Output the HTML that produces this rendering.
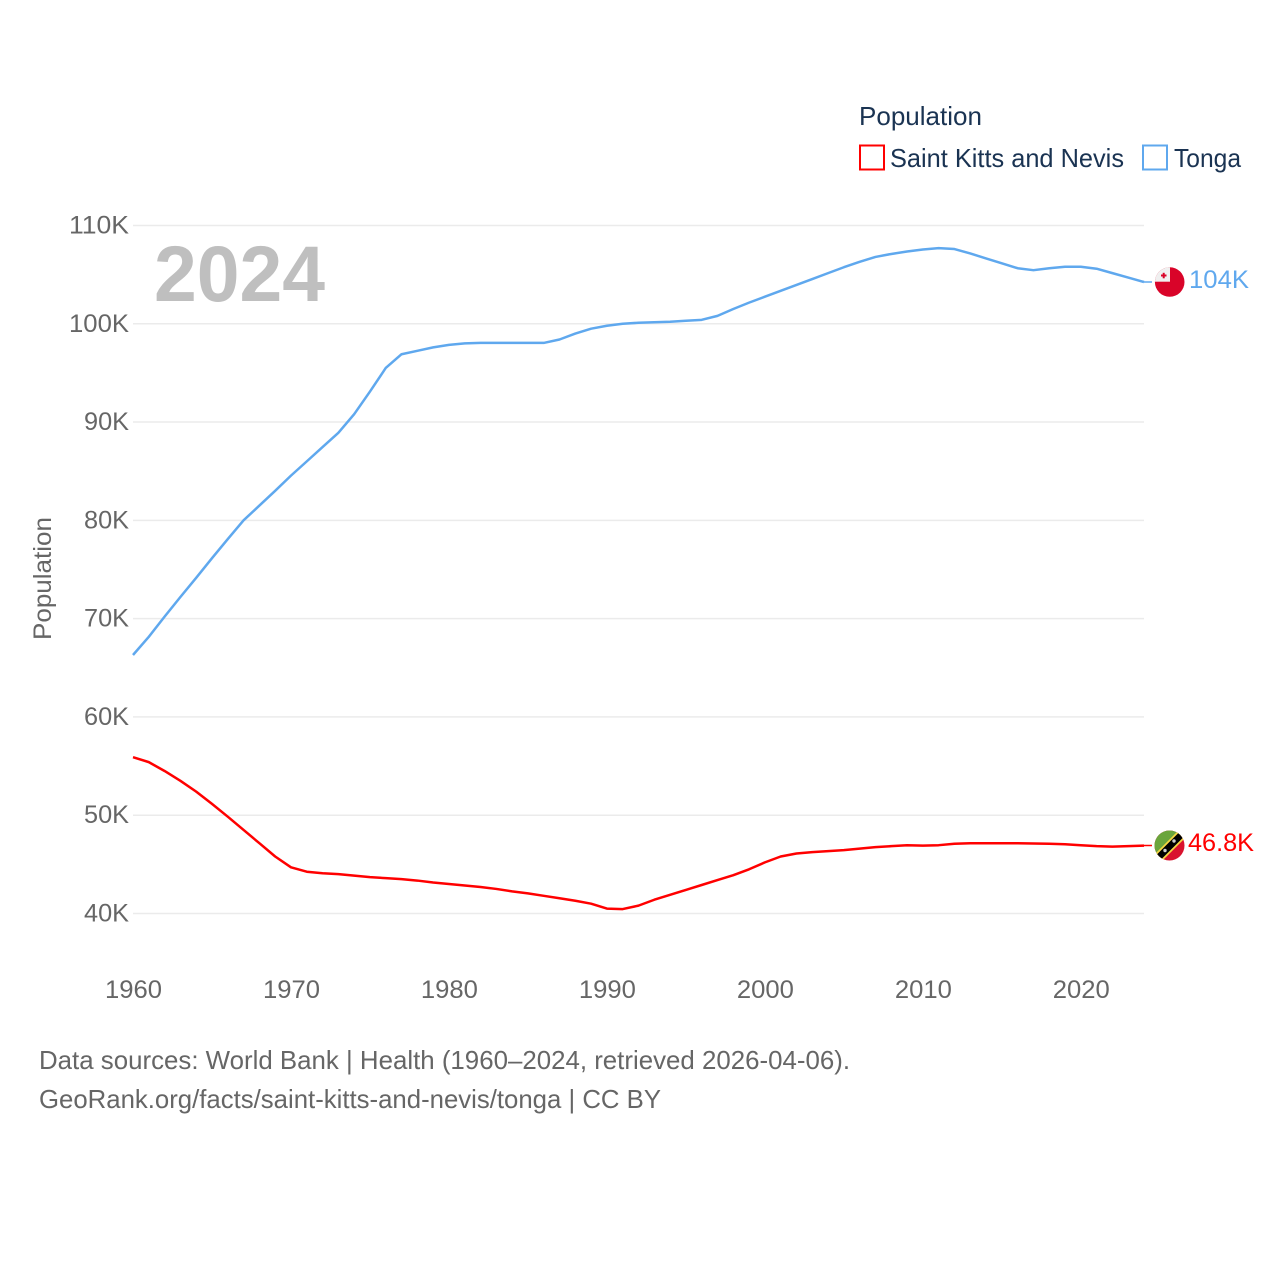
<!DOCTYPE html>
<html>
<head>
<meta charset="utf-8">
<title>Population: Saint Kitts and Nevis vs Tonga</title>
<style>
html,body{margin:0;padding:0;background:#fff;width:1280px;height:1280px;overflow:hidden}
svg{display:block}
text{font-family:"Liberation Sans",sans-serif}
</style>
</head>
<body>
<svg id="chart" width="1280" height="1280" viewBox="0 0 1280 1280" xmlns="http://www.w3.org/2000/svg">
  <rect width="1280" height="1280" fill="#fff"/>
  <g id="grid"></g>
  <g id="yticks"></g>
  <g id="xticks"></g>
  <text x="154" y="301" font-size="79" font-weight="bold" fill="#bfbfbf" textLength="171" lengthAdjust="spacingAndGlyphs">2024</text>
  <text transform="translate(51,640) rotate(-90)" font-size="25" fill="#666" textLength="123" lengthAdjust="spacingAndGlyphs">Population</text>
  <g id="series"></g>

  <g>
    <text x="859" y="125" font-size="26" fill="#1a3352" textLength="123" lengthAdjust="spacingAndGlyphs">Population</text>
    <rect x="860" y="145.500" width="24" height="24" fill="#fff" stroke="#ff0000" stroke-width="2"/>
    <text x="890" y="167" font-size="26" fill="#1a3352" textLength="234" lengthAdjust="spacingAndGlyphs">Saint Kitts and Nevis</text>
    <rect x="1143" y="145.500" width="24" height="24" fill="#fff" stroke="#5fa8ee" stroke-width="2"/>
    <text x="1174" y="167" font-size="26" fill="#1a3352" textLength="67" lengthAdjust="spacingAndGlyphs">Tonga</text>
  </g>

  <defs>
    <clipPath id="tongaClip"><circle cx="1169.700" cy="282" r="14.800"/></clipPath>
    <clipPath id="kittsClip"><circle cx="1169.500" cy="845.500" r="15"/></clipPath>
  </defs>

  <line x1="1144" y1="282" x2="1152" y2="282" stroke="#5fa8ee" stroke-width="1.500"/>
  <g clip-path="url(#tongaClip)">
    <rect x="1154" y="266" width="32" height="32" fill="#d90429"/>
    <rect x="1154" y="266" width="16" height="15.700" fill="#f0f0f0"/>
    <rect x="1162.700" y="272.800" width="2" height="5.500" fill="#d90429"/>
    <rect x="1161" y="274.500" width="5.500" height="2" fill="#d90429"/>
  </g>
  <text x="1189" y="288" font-size="25" fill="#5fa8ee" textLength="60" lengthAdjust="spacingAndGlyphs">104K</text>

  <line x1="1144" y1="845.500" x2="1152" y2="845.500" stroke="#ff0000" stroke-width="1.500"/>
  <g clip-path="url(#kittsClip)">
    <rect x="1154" y="830" width="32" height="32" fill="#d9122e"/>
    <polygon points="1154,830 1186,830 1154,862" fill="#6aa53c"/>
    <line x1="1156" y1="860" x2="1184" y2="832" stroke="#f5d742" stroke-width="10"/>
    <line x1="1156" y1="860" x2="1184" y2="832" stroke="#000" stroke-width="6.500"/>
    <circle cx="1165" cy="850.500" r="1.700" fill="#ccc"/>
    <circle cx="1174" cy="841" r="1.700" fill="#ccc"/>
  </g>
  <text x="1188" y="851" font-size="25" fill="#ff0000" textLength="66" lengthAdjust="spacingAndGlyphs">46.8K</text>

  <g>
    <text x="39" y="1069" font-size="26" fill="#666" textLength="811" lengthAdjust="spacingAndGlyphs">Data sources: World Bank | Health (1960–2024, retrieved 2026-04-06).</text>
    <text x="39" y="1108" font-size="26" fill="#666" textLength="622" lengthAdjust="spacingAndGlyphs">GeoRank.org/facts/saint-kitts-and-nevis/tonga | CC BY</text>
  </g>
</svg>
<script>
const startYear = 1960;
const xTickLabels = [1960, 1970, 1980, 1990, 2000, 2010, 2020];
const yTickValues = [40, 50, 60, 70, 80, 90, 100, 110];
const tongaValues = [
  66.3, 68.15, 70.2, 72.2, 74.15, 76.15, 78.1, 80.0, 81.5, 83.0,
  84.55, 86.0, 87.45, 88.9, 90.8, 93.1, 95.5, 96.9, 97.25, 97.6,
  97.85, 98.0, 98.05, 98.05, 98.05, 98.05, 98.05, 98.4, 99.0, 99.5,
  99.8, 100.0, 100.1, 100.15, 100.2, 100.3, 100.4, 100.8, 101.5, 102.15,
  102.75, 103.35, 103.95, 104.55, 105.15, 105.75, 106.3, 106.8, 107.1, 107.35,
  107.55, 107.7, 107.6, 107.15, 106.65, 106.15, 105.65, 105.45, 105.65, 105.8,
  105.8, 105.6, 105.15, 104.7, 104.25
];
const kittsValues = [
  55.9, 55.4, 54.5, 53.5, 52.4, 51.15, 49.85, 48.5, 47.15, 45.8,
  44.7, 44.25, 44.1, 44.0, 43.85, 43.7, 43.6, 43.5, 43.35, 43.15,
  43.0, 42.85, 42.7, 42.5, 42.25, 42.05, 41.8, 41.55, 41.3, 41.0,
  40.5, 40.45, 40.8, 41.4, 41.9, 42.4, 42.9, 43.4, 43.9, 44.5,
  45.2, 45.8, 46.1, 46.25, 46.35, 46.45, 46.6, 46.75, 46.85, 46.95,
  46.9, 46.95, 47.1, 47.15, 47.15, 47.15, 47.15, 47.12, 47.1, 47.05,
  46.95, 46.85, 46.8, 46.85, 46.9
];

const NS = 'http://www.w3.org/2000/svg';
const xScale = function (year) { return 133 + (year - 1960) * 15.797; };
const yScale = function (v) { return 913.5 - (v - 40) * 9.829; };

const gridGroup = document.getElementById('grid');
const yGroup = document.getElementById('yticks');
const xGroup = document.getElementById('xticks');
const seriesGroup = document.getElementById('series');

yTickValues.forEach(function (v) {
  const line = document.createElementNS(NS, 'line');
  
  
  line.setAttribute('x1', 133);
  line.setAttribute('x2', 1144);
  line.setAttribute('y1', yScale(v));
  line.setAttribute('y2', yScale(v));
  line.setAttribute('stroke', '#ebebeb');
  line.setAttribute('stroke-width', '1.5');
  gridGroup.appendChild(line);

  const label = document.createElementNS(NS, 'text');
  
  
  const str = v + 'K';
  label.textContent = str;
  const w = str.length * 15;
  label.setAttribute('x', 129 - w);
  label.setAttribute('y', yScale(v) + 8);
  label.setAttribute('font-size', '25');
  label.setAttribute('fill', '#666');
  label.setAttribute('textLength', w);
  label.setAttribute('lengthAdjust', 'spacingAndGlyphs');
  yGroup.appendChild(label);
});

xTickLabels.forEach(function (year) {
  const label = document.createElementNS(NS, 'text');
  
  
  label.textContent = String(year);
  label.setAttribute('x', xScale(year) - 28);
  label.setAttribute('y', 998);
  label.setAttribute('font-size', '25');
  label.setAttribute('fill', '#666');
  label.setAttribute('textLength', '57');
  label.setAttribute('lengthAdjust', 'spacingAndGlyphs');
  xGroup.appendChild(label);
});

function linePath(values) {
  return values.map(function (v, i) {
    return (i === 0 ? 'M' : 'L') + xScale(startYear + i).toFixed(2) + ' ' + yScale(v).toFixed(2);
  }).join(' ');
}

const tongaLine = document.createElementNS(NS, 'path');


tongaLine.setAttribute('d', linePath(tongaValues));
tongaLine.setAttribute('fill', 'none');
tongaLine.setAttribute('stroke', '#5fa8ee');
tongaLine.setAttribute('stroke-width', '2.5');
tongaLine.setAttribute('stroke-linejoin', 'round');
seriesGroup.appendChild(tongaLine);

const kittsLine = document.createElementNS(NS, 'path');


kittsLine.setAttribute('d', linePath(kittsValues));
kittsLine.setAttribute('fill', 'none');
kittsLine.setAttribute('stroke', '#ff0000');
kittsLine.setAttribute('stroke-width', '2.5');
kittsLine.setAttribute('stroke-linejoin', 'round');
seriesGroup.appendChild(kittsLine);
</script>
</body>
</html>
